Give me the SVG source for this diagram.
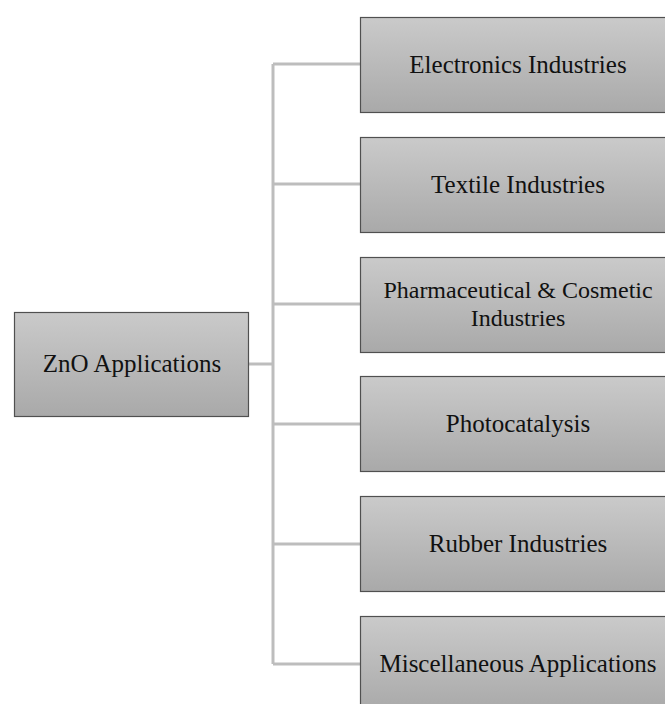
<svg xmlns="http://www.w3.org/2000/svg" width="665" height="704" viewBox="0 0 665 704">
<defs>
<linearGradient id="g" x1="0" y1="0" x2="0" y2="1">
<stop offset="0" stop-color="#cacaca"/>
<stop offset="1" stop-color="#a9a9a9"/>
</linearGradient>
</defs>
<style>
.box{fill:url(#g);stroke:#505050;stroke-width:1.2}
.t{font-family:"Liberation Serif",serif;font-size:25px;fill:#111;text-anchor:middle}
.s{font-size:24px}
.c{stroke:#bdbdbd;stroke-width:3;fill:none}
</style>
<rect width="665" height="704" fill="#fff"/>
<g id="connectors">
<path class="c" d="M248 364H273M273 64V664M273 64H360M273 184H360M273 304H360M273 424H360M273 544H360M273 664H360"/>
</g>
<g id="root"><rect class="box" x="14.5" y="312.5" width="234" height="104"/><text class="t" x="132" y="371.5">ZnO Applications</text></g>
<g id="n1"><rect class="box" x="360.5" y="17.5" width="316" height="95"/><text class="t" x="518" y="73">Electronics Industries</text></g>
<g id="n2"><rect class="box" x="360.5" y="137.5" width="316" height="95"/><text class="t" x="518" y="193">Textile Industries</text></g>
<g id="n3"><rect class="box" x="360.5" y="257.5" width="316" height="95"/><text class="t s" x="518" y="298">Pharmaceutical &amp; Cosmetic</text><text class="t s" x="518" y="326">Industries</text></g>
<g id="n4"><rect class="box" x="360.5" y="376.5" width="316" height="95"/><text class="t" x="518" y="432">Photocatalysis</text></g>
<g id="n5"><rect class="box" x="360.5" y="496.5" width="316" height="95"/><text class="t" x="518" y="552">Rubber Industries</text></g>
<g id="n6"><rect class="box" x="360.5" y="616.5" width="316" height="95"/><text class="t" x="518" y="672">Miscellaneous Applications</text></g>
</svg>
